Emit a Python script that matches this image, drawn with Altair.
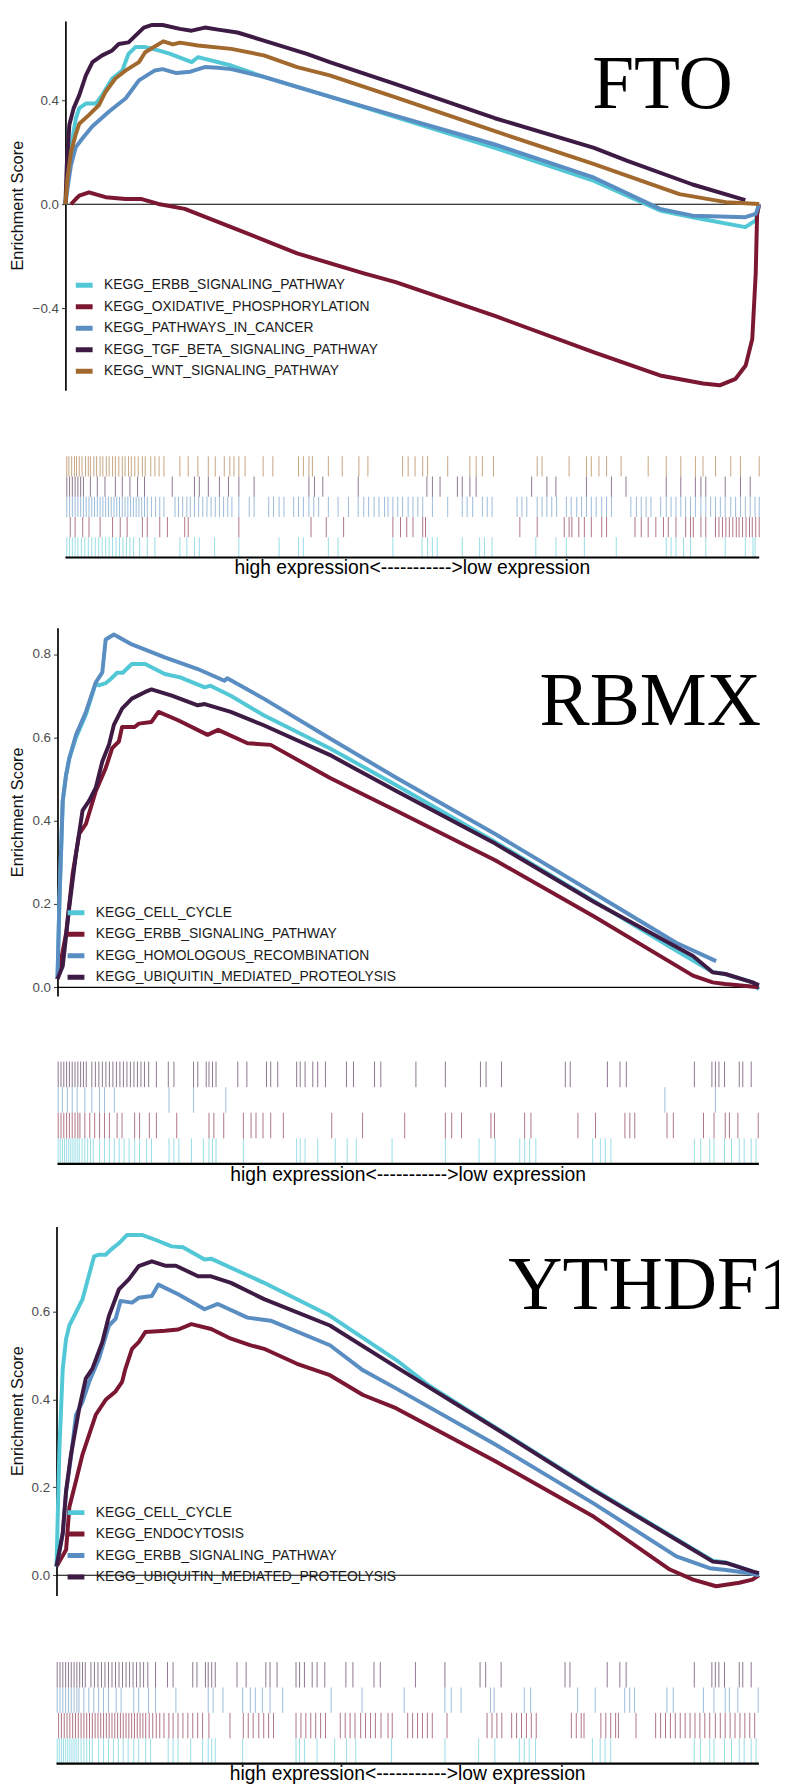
import altair as alt
import pandas as pd

# ---------------- colours ----------------
CYAN = "#52C7D6"
RED = "#7B1731"
BLUE = "#5A8EC2"
PURPLE = "#3E1B44"
BROWN = "#A2692E"

# ---------------- panel 1 : FTO ----------------
FTO_NAMES = ["KEGG_ERBB_SIGNALING_PATHWAY", "KEGG_OXIDATIVE_PHOSPHORYLATION",
             "KEGG_PATHWAYS_IN_CANCER", "KEGG_TGF_BETA_SIGNALING_PATHWAY",
             "KEGG_WNT_SIGNALING_PATHWAY"]
FTO_COLORS = [CYAN, RED, BLUE, PURPLE, BROWN]

FTO_ERBB_X = [0, 0.3, 0.8, 1.5, 2.0, 3.0, 4.4, 5.3, 6.75, 8.2, 9.1, 10.1, 11.5, 13.4, 15.0, 18.2, 19.1, 23.9, 28.6, 38.1, 47.6, 61.9, 76.2, 85.7, 90.4, 98.0, 99.5, 100]
FTO_ERBB_Y = [0, 0.10, 0.22, 0.33, 0.37, 0.388, 0.388, 0.42, 0.484, 0.515, 0.579, 0.605, 0.605, 0.592, 0.58, 0.547, 0.566, 0.534, 0.49, 0.414, 0.335, 0.217, 0.09, -0.024, -0.05, -0.088, -0.062, 0]
FTO_OXPHOS_X = [0.8, 1.5, 2.0, 3.4, 5.8, 8.7, 11.0, 13.4, 17.2, 23.9, 33.4, 42.9, 47.6, 61.9, 76.2, 85.7, 91.9, 94.3, 96.6, 98.05, 99.0, 99.5, 99.7, 100]
FTO_OXPHOS_Y = [0, 0.02, 0.033, 0.046, 0.027, 0.02, 0.02, 0.001, -0.018, -0.088, -0.189, -0.265, -0.30, -0.43, -0.57, -0.659, -0.69, -0.697, -0.672, -0.621, -0.519, -0.265, -0.037, 0]
FTO_CANCER_X = [0, 0.3, 0.8, 1.5, 2.5, 3.9, 6.3, 8.7, 10.6, 12.9, 14.0, 16.0, 18.0, 20.1, 22.0, 23.9, 28.6, 38.1, 47.6, 61.9, 76.2, 85.7, 90.4, 98.0, 99.5, 100]
FTO_CANCER_Y = [0, 0.06, 0.15, 0.22, 0.255, 0.30, 0.357, 0.408, 0.477, 0.515, 0.52, 0.505, 0.51, 0.528, 0.525, 0.52, 0.49, 0.414, 0.34, 0.23, 0.102, -0.018, -0.044, -0.05, -0.037, 0]
FTO_TGF_X = [0, 0.2, 0.57, 1.2, 2.0, 2.95, 3.9, 5.3, 6.75, 7.7, 9.1, 10.1, 11.3, 12.5, 14.0, 16.5, 18.2, 20.1, 22.0, 24.8, 28.6, 34.8, 38.1, 47.6, 61.9, 76.2, 80.9, 90.4, 98.0]
FTO_TGF_Y = [0, 0.15, 0.306, 0.37, 0.42, 0.496, 0.547, 0.573, 0.592, 0.617, 0.623, 0.649, 0.68, 0.69, 0.69, 0.675, 0.668, 0.68, 0.672, 0.661, 0.63, 0.579, 0.547, 0.462, 0.331, 0.217, 0.168, 0.076, 0.016]
FTO_WNT_X = [0, 0.3, 0.8, 1.5, 2.0, 3.4, 4.85, 5.8, 7.2, 8.7, 10.6, 11.5, 14.1, 15.5, 16.5, 19.1, 23.9, 28.6, 33.4, 38.1, 47.6, 61.9, 76.2, 88.5, 95.2, 100]
FTO_WNT_Y = [0, 0.10, 0.2, 0.27, 0.31, 0.344, 0.382, 0.433, 0.484, 0.515, 0.547, 0.585, 0.627, 0.615, 0.622, 0.611, 0.598, 0.573, 0.528, 0.496, 0.411, 0.281, 0.154, 0.039, 0.008, 0.001]

FTO_WNT_HITS = [0.2, 0.5, 0.9, 1.3, 1.6, 2.0, 2.4, 2.9, 3.3, 3.6, 4.1, 4.5, 5.0, 5.4, 5.9, 6.3, 6.8, 7.2, 7.7, 8.2, 8.6, 9.1, 9.5, 10.0, 10.5, 11.1, 11.5, 12.3, 12.9, 13.5, 14.2,
                16.5, 17.7, 19.1, 20.6, 21.6, 22.9, 23.7, 24.3, 25.0, 25.9, 28.5, 29.9, 33.6, 34.3, 35.1, 35.6, 37.9, 39.9, 42.3, 43.6, 48.6, 49.4, 50.4, 51.5, 52.2, 55.1, 58.3, 59.2, 60.1, 61.7,
                68.0, 68.7, 72.6, 75.1, 75.8, 76.9, 78.0, 80.1, 84.0, 86.6, 88.7, 90.8, 91.9, 93.7, 95.9, 97.3, 100]
FTO_TGF_HITS = [0.2, 0.6, 1.0, 1.4, 1.8, 2.2, 2.6, 3.6, 4.6, 5.7, 7.2, 8.2, 9.3, 10.4, 11.4, 15.4, 18.6, 19.3, 20.6, 22.2, 23.5, 25.0, 27.2, 35.1, 35.9, 37.1, 42.2, 52.1, 52.9, 54.0, 56.5, 57.2, 58.3, 59.2,
                67.2, 69.4, 70.7, 75.1, 78.7, 80.8, 86.6, 88.7, 90.8, 91.6, 92.3, 95.1, 97.3, 98.7]
FTO_CANCER_HITS = [0.2, 0.6, 1.0, 1.4, 1.8, 2.2, 2.6, 3.0, 3.4, 3.8, 4.2, 4.6, 5.0, 5.4, 5.8, 6.2, 6.6, 7.0, 7.4, 7.8, 8.2, 8.6, 9.0, 9.4, 9.8, 10.2, 10.6, 11.0, 11.4, 11.8, 12.4, 13.0, 13.6, 14.2,
                   15.8, 16.3, 16.9, 17.5, 18.0, 18.6, 19.2, 19.8, 20.4, 21.0, 21.6, 22.2, 22.8, 23.4, 24.0, 25.0, 26.5, 27.2, 29.3, 30.0, 30.8, 31.5, 32.9, 33.6, 34.3, 35.1, 35.8, 36.5,
                   37.9, 39.3, 40.8, 42.2, 43.0, 43.7, 44.5, 45.2, 46.0, 46.5, 47.2, 47.9, 48.6, 49.4, 50.1, 50.8, 51.5, 52.9, 55.1, 57.2, 57.9, 58.7, 60.1, 60.8, 61.5, 65.1, 65.8, 66.5,
                   68.0, 68.7, 69.4, 70.1, 70.8, 72.2, 72.9, 73.7, 74.4, 75.1, 75.8, 76.5, 77.3, 78.0, 78.7, 81.5, 82.3, 83.0, 83.7, 84.4, 85.8, 86.6, 87.3, 88.0, 88.7, 89.4, 90.1, 90.8,
                   91.6, 92.3, 93.0, 93.7, 94.4, 95.1, 95.9, 96.6, 97.3, 98.0, 98.7, 99.4, 100]
FTO_OXPHOS_HITS = [0.7, 1.4, 2.5, 3.4, 5.0, 6.8, 7.9, 8.9, 11.1, 11.8, 13.6, 14.7, 17.2, 17.7, 25.0, 35.4, 37.6, 40.1, 47.2, 48.3, 49.2, 50.1, 51.5, 51.9, 65.5, 68.0, 71.9, 72.6, 73.0, 74.0, 74.8,
                   75.8, 77.3, 78.0, 82.1, 83.0, 84.0, 85.1, 86.2, 86.9, 88.0, 89.4, 90.1, 90.5, 91.6, 92.3, 93.7, 94.2, 94.7, 95.2, 95.7, 96.2, 96.7, 97.1, 97.6, 98.1, 98.6, 99.0, 99.5, 100]
FTO_ERBB_HITS = [0.2, 0.6, 1.0, 1.4, 1.8, 2.3, 2.8, 3.3, 3.8, 4.3, 4.8, 5.3, 5.8, 6.3, 6.8, 7.3, 7.8, 8.3, 8.8, 9.3, 9.8, 10.7, 11.8, 12.9, 16.5, 17.5, 18.6, 19.3, 21.5, 25.0, 30.8, 33.6, 34.3,
                 37.9, 39.3, 47.2, 51.4, 52.2, 52.9, 53.6, 57.2, 59.7, 60.4, 61.5, 67.8, 70.7, 72.2, 74.8, 79.4, 86.6, 87.3, 88.0, 89.1, 90.1, 92.3, 95.1, 98.0, 99.1, 99.4]

# ---------------- panel 2 : RBMX ----------------
RBMX_NAMES = ["KEGG_CELL_CYCLE", "KEGG_ERBB_SIGNALING_PATHWAY",
              "KEGG_HOMOLOGOUS_RECOMBINATION", "KEGG_UBIQUITIN_MEDIATED_PROTEOLYSIS"]
RBMX_COLORS = [CYAN, RED, BLUE, PURPLE]

RBMX_CC_X = [0, 0.28, 0.75, 1.23, 1.69, 2.64, 4.05, 5.46, 5.9, 6.87, 7.6, 8.5, 9.3, 10.6, 12.5, 15.3, 17.5, 21.0, 21.8, 24.7, 29.4, 38.8, 48.3, 62.4, 76.5, 88.2, 93.4, 95.2, 99.1, 100]
RBMX_CC_Y = [0.02, 0.21, 0.448, 0.51, 0.55, 0.60, 0.655, 0.73, 0.725, 0.73, 0.74, 0.755, 0.755, 0.776, 0.776, 0.752, 0.744, 0.72, 0.724, 0.70, 0.653, 0.574, 0.485, 0.349, 0.207, 0.088, 0.037, 0.032, 0.012, -0.005]
RBMX_ERBB_X = [0, 1.23, 2.16, 3.1, 4.05, 5.46, 6.87, 7.8, 8.75, 9.21, 11.0, 11.6, 13.4, 14.4, 17.2, 21.4, 22.9, 27.1, 30.4, 38.8, 43.6, 48.3, 62.4, 76.5, 90.6, 93.4, 95.2, 100]
RBMX_ERBB_Y = [0.02, 0.13, 0.273, 0.368, 0.392, 0.471, 0.526, 0.574, 0.59, 0.625, 0.625, 0.633, 0.637, 0.661, 0.641, 0.606, 0.618, 0.586, 0.582, 0.503, 0.463, 0.424, 0.305, 0.17, 0.028, 0.012, 0.008, 0.0]
RBMX_HR_X = [0, 0.28, 0.75, 1.23, 1.69, 2.64, 4.05, 5.46, 6.39, 6.87, 8.04, 10.6, 15.3, 20.0, 23.8, 24.2, 29.4, 38.8, 48.3, 62.4, 76.5, 88.2, 93.9]
RBMX_HR_Y = [0.02, 0.21, 0.448, 0.51, 0.55, 0.606, 0.661, 0.732, 0.756, 0.835, 0.847, 0.823, 0.792, 0.764, 0.736, 0.742, 0.693, 0.598, 0.503, 0.368, 0.226, 0.107, 0.063]
RBMX_UBIQ_X = [0, 0.75, 1.69, 2.64, 3.57, 4.52, 5.46, 6.39, 7.34, 8.04, 9.21, 10.6, 12.5, 13.4, 16.3, 20.0, 21.0, 24.7, 29.4, 38.8, 48.3, 62.4, 76.5, 90.6, 93.4, 95.2, 99.1, 100]
RBMX_UBIQ_Y = [0.02, 0.051, 0.194, 0.32, 0.424, 0.448, 0.479, 0.542, 0.582, 0.63, 0.669, 0.693, 0.709, 0.715, 0.70, 0.677, 0.68, 0.661, 0.629, 0.558, 0.471, 0.345, 0.205, 0.075, 0.036, 0.032, 0.012, 0.005]

UBIQ_HITS = [0.1, 0.5, 0.9, 1.3, 1.7, 2.1, 2.5, 2.9, 3.3, 3.7, 4.1, 4.9, 5.4, 5.9, 6.4, 6.9, 7.4, 7.9, 8.4, 8.9, 9.4, 9.9, 10.4, 10.9, 11.4, 11.9, 12.4, 13.0, 14.1, 15.8, 16.6, 19.4, 20.0,
             21.2, 21.6, 22.1, 22.6, 25.7, 27.0, 29.8, 30.4, 31.4, 34.1, 34.6, 35.3, 36.4, 37.1, 38.2, 41.2, 42.2, 45.2, 46.1, 51.1, 55.3, 60.3, 61.1, 63.3, 72.4, 73.1, 78.4, 80.2, 81.1,
             90.8, 93.3, 93.8, 94.3, 95.1, 97.2, 97.7, 98.9]
HR_HITS = [0.1, 0.7, 1.4, 2.1, 2.8, 3.9, 4.9, 6.0, 6.7, 8.1, 15.9, 19.4, 24.0, 86.6, 93.8]
ERBB_HITS = [0.1, 0.5, 0.9, 1.3, 1.7, 2.1, 2.5, 2.9, 3.2, 3.9, 4.6, 5.3, 6.0, 6.7, 7.4, 8.5, 9.2, 11.0, 11.7, 13.1, 14.1, 17.0, 21.6, 22.3, 23.7, 26.5, 27.6, 28.3, 29.3, 30.4, 32.2,
             39.1, 43.5, 49.5, 55.3, 56.2, 57.6, 61.8, 62.3, 66.6, 67.5, 74.2, 76.7, 80.9, 81.6, 82.3, 86.9, 87.8, 92.1, 93.6, 95.2, 95.8, 97.0, 99.9]
CC_HITS = [0.1, 0.4, 0.7, 1.0, 1.3, 1.6, 1.9, 2.2, 2.5, 2.8, 3.1, 3.5, 3.9, 4.3, 4.7, 5.1, 6.0, 6.7, 7.4, 8.1, 8.8, 9.5, 10.2, 11.0, 11.7, 12.7, 13.4, 15.9, 16.6, 17.3, 19.1, 20.8, 21.6,
           22.1, 22.6, 26.5, 34.1, 34.6, 35.3, 37.1, 39.6, 41.3, 42.6, 47.7, 55.3, 60.1, 62.4, 65.9, 66.6, 67.3, 68.2, 76.3, 77.4, 78.1, 78.9, 90.8, 91.7, 93.0, 93.6, 95.1, 96.1,
           97.2, 97.9, 98.9, 99.6]

# ---------------- panel 3 : YTHDF1 ----------------
YTH_NAMES = ["KEGG_CELL_CYCLE", "KEGG_ENDOCYTOSIS",
             "KEGG_ERBB_SIGNALING_PATHWAY", "KEGG_UBIQUITIN_MEDIATED_PROTEOLYSIS"]
YTH_COLORS = [CYAN, RED, BLUE, PURPLE]

YTH_CC_X = [0, 0.42, 0.89, 1.37, 1.83, 2.78, 3.71, 4.65, 5.35, 6.06, 7.0, 7.71, 8.88, 10.05, 12.16, 14.05, 16.39, 18.0, 21.09, 22.0, 29.55, 38.93, 48.33, 53.0, 62.42, 76.51, 90.63, 93.45, 95.32, 99.07, 100]
YTH_CC_Y = [0.02, 0.29, 0.47, 0.538, 0.568, 0.598, 0.628, 0.684, 0.725, 0.729, 0.729, 0.74, 0.755, 0.774, 0.774, 0.763, 0.748, 0.746, 0.718, 0.72, 0.665, 0.59, 0.49, 0.432, 0.337, 0.195, 0.06, 0.033, 0.029, 0.009, 0.0]
YTH_ENDO_X = [0, 1.37, 1.83, 2.78, 3.71, 4.65, 5.59, 7.0, 8.41, 9.34, 9.82, 10.75, 11.7, 12.64, 15.46, 17.33, 19.2, 22.02, 24.84, 27.66, 29.55, 34.24, 38.93, 43.64, 48.33, 62.42, 76.51, 87.32, 90.63, 93.91, 97.2, 99.07, 100]
YTH_ENDO_Y = [0.02, 0.058, 0.155, 0.215, 0.275, 0.32, 0.365, 0.399, 0.418, 0.44, 0.47, 0.515, 0.53, 0.553, 0.556, 0.559, 0.571, 0.56, 0.538, 0.523, 0.515, 0.481, 0.455, 0.41, 0.38, 0.26, 0.133, 0.013, -0.01, -0.025, -0.017, -0.01, 0]
YTH_ERBB_X = [0, 0.89, 1.37, 2.07, 2.78, 3.71, 4.65, 6.06, 7.47, 8.41, 9.12, 10.75, 11.7, 13.57, 14.51, 17.33, 21.09, 22.97, 27.19, 30.48, 38.93, 43.64, 48.33, 62.42, 76.51, 88.25, 92.98, 95.32, 98.5, 100]
YTH_ERBB_Y = [0.02, 0.095, 0.19, 0.27, 0.365, 0.395, 0.44, 0.493, 0.568, 0.583, 0.624, 0.62, 0.631, 0.635, 0.661, 0.639, 0.605, 0.617, 0.586, 0.579, 0.523, 0.466, 0.425, 0.298, 0.163, 0.043, 0.016, 0.012, 0.005, 0.0]
YTH_UBIQ_X = [0, 0.89, 1.37, 2.07, 3.24, 4.18, 5.11, 6.52, 7.47, 8.88, 10.29, 11.7, 13.57, 15.46, 17.0, 20.15, 22.0, 24.84, 29.55, 38.93, 48.33, 62.42, 76.51, 90.63, 93.45, 95.32, 99.07, 100]
YTH_UBIQ_Y = [0.02, 0.095, 0.193, 0.275, 0.38, 0.448, 0.47, 0.53, 0.59, 0.65, 0.673, 0.703, 0.714, 0.704, 0.704, 0.68, 0.68, 0.665, 0.628, 0.568, 0.474, 0.335, 0.193, 0.058, 0.031, 0.028, 0.009, 0.005]

ENDO_HITS = [0.3, 0.7, 1.1, 1.5, 1.9, 2.3, 2.7, 3.1, 3.5, 3.9, 4.3, 4.7, 5.1, 5.5, 5.9, 6.3, 6.7, 7.1, 7.5, 7.9, 8.3, 8.7, 9.1, 9.5, 9.9, 10.3, 10.7, 11.1, 11.5, 11.9, 12.3, 12.7, 13.2,
             13.7, 14.2, 14.7, 15.3, 16.0, 16.6, 17.3, 18.0, 18.7, 19.4, 20.1, 20.8, 21.7, 24.7, 26.6, 27.3, 28.0, 28.8, 29.5, 30.2, 30.9, 34.1, 34.8, 35.5, 36.2, 36.9, 37.6, 38.3,
             40.4, 41.1, 41.8, 42.5, 43.3, 44.0, 44.7, 45.4, 46.2, 47.2, 47.8, 50.0, 50.7, 51.4, 52.1, 52.8, 53.5, 55.6, 61.3, 62.0, 62.7, 63.4, 64.8, 65.5, 66.2, 66.9, 67.6, 68.3,
             73.3, 74.0, 74.7, 75.1, 77.5, 78.2, 78.9, 79.6, 80.0, 82.5, 85.3, 86.0, 86.7, 87.4, 88.1, 88.8, 89.5, 90.2, 90.9, 91.6, 92.3, 93.0, 93.8, 94.5, 95.2, 95.9, 96.6,
             97.3, 98.0, 98.7, 99.4]

AXIS_TITLE = "Enrichment Score"
RUG_TEXT = "high expression<----------->low expression"


# ---------------- helpers ----------------
def lines_frame(names, xs_list, ys_list):
    rows = []
    for name, xs, ys in zip(names, xs_list, ys_list):
        for x, y in zip(xs, ys):
            rows.append({"rank": x, "es": y, "pathway": name})
    return pd.DataFrame(rows)


def rug_frame(names, hits_list):
    n = len(names)
    rows = []
    for i, (name, hits) in enumerate(zip(names, hits_list)):
        row = n - 1 - i
        for h in hits:
            rows.append({"rank": h, "r0": row, "r1": row + 1, "pathway": name})
    return pd.DataFrame(rows)


def xsc(rng):
    return alt.Scale(domain=[0, 100], range=rng, nice=False, zero=False)


def ysc(dom, rng):
    return alt.Scale(domain=dom, range=rng, nice=False, zero=False)


def panel(names, colors, xs_list, ys_list, hits_list, label, label_pos,
          xr, ydom, yr, ticks, axis_off, title_x, title_y,
          leg_x, leg_y, rug_r, rug_text_row):
    layers = []
    # zero line
    zero = pd.DataFrame({"a": [0], "b": [100], "v": [0.0]})
    layers.append(alt.Chart(zero).mark_rule(color="black", strokeWidth=1.1).encode(
        x=alt.X("a:Q", scale=xsc(xr), axis=None), x2="b:Q",
        y=alt.Y("v:Q", scale=ysc(ydom, yr), axis=None)))
    # curves with axis and legend
    axis = alt.Axis(orient="left", offset=axis_off, values=ticks, format=".1f",
                    domainColor="#111111", domainWidth=1.8, tickColor="#333333",
                    tickSize=4, tickWidth=1, labelFont="Liberation Sans",
                    labelFontSize=13.5, labelColor="#4D4D4D", labelPadding=3,
                    grid=False, title=AXIS_TITLE, titleFont="Liberation Sans",
                    titleFontSize=16.5, titleFontWeight="normal", titleColor="#111111",
                    titleAngle=-90, titleBaseline="middle", titleAlign="center",
                    titleX=title_x, titleY=title_y)
    legend = alt.Legend(orient="none", legendX=leg_x, legendY=leg_y, title=None,
                        symbolType="stroke", symbolSize=289, symbolStrokeWidth=5,
                        labelFont="Liberation Sans", labelFontSize=14,
                        labelColor="#1A1A1A", labelOffset=9, clipHeight=18,
                        rowPadding=3.7, padding=0, labelLimit=0)
    layers.append(alt.Chart(lines_frame(names, xs_list, ys_list)).mark_line(
        strokeWidth=4, strokeJoin="round").encode(
        x=alt.X("rank:Q", scale=xsc(xr), axis=None),
        y=alt.Y("es:Q", scale=ysc(ydom, yr), axis=axis),
        color=alt.Color("pathway:N", scale=alt.Scale(domain=names, range=colors),
                        legend=legend)))
    # gene label
    lab = pd.DataFrame({"a": [label_pos[0]], "v": [label_pos[1]], "t": [label]})
    layers.append(alt.Chart(lab).mark_text(font="Liberation Serif", fontSize=76,
                                           align="left", baseline="alphabetic",
                                           color="black").encode(
        x=alt.X("a:Q", scale=xsc(xr), axis=None),
        y=alt.Y("v:Q", scale=ysc(ydom, yr), axis=None), text="t:N"))
    # rug
    n = len(names)
    rug_y = alt.Scale(domain=[0, n], range=rug_r, nice=False, zero=False)
    layers.append(alt.Chart(rug_frame(names, hits_list)).mark_rule(
        strokeWidth=1, opacity=0.6).encode(
        x=alt.X("rank:Q", scale=xsc(xr), axis=None),
        y=alt.Y("r0:Q", scale=rug_y, axis=None), y2="r1:Q",
        color=alt.Color("pathway:N", scale=alt.Scale(domain=names, range=colors),
                        legend=None)))
    base = pd.DataFrame({"a": [0], "b": [100], "r": [n]})
    layers.append(alt.Chart(base).mark_rule(color="black", strokeWidth=2.2).encode(
        x=alt.X("a:Q", scale=xsc(xr), axis=None), x2="b:Q",
        y=alt.Y("r:Q", scale=alt.Scale(domain=[0, n], range=rug_r, nice=False, zero=False),
                axis=None)))
    txt = pd.DataFrame({"a": [50], "r": [rug_text_row], "t": [RUG_TEXT]})
    layers.append(alt.Chart(txt).mark_text(font="Liberation Sans", fontSize=19.5,
                                           align="center", baseline="middle",
                                           color="black").encode(
        x=alt.X("a:Q", scale=xsc(xr), axis=None),
        y=alt.Y("r:Q", scale=alt.Scale(domain=[0, n], range=rug_r, nice=False, zero=False),
                axis=None), text="t:N"))
    return layers


layers = []
layers += panel(FTO_NAMES, FTO_COLORS,
                [FTO_ERBB_X, FTO_OXPHOS_X, FTO_CANCER_X, FTO_TGF_X, FTO_WNT_X],
                [FTO_ERBB_Y, FTO_OXPHOS_Y, FTO_CANCER_Y, FTO_TGF_Y, FTO_WNT_Y],
                [FTO_ERBB_HITS, FTO_OXPHOS_HITS, FTO_CANCER_HITS, FTO_TGF_HITS, FTO_WNT_HITS],
                "FTO", (75.93, 0.3695),
                xr=[58, 759], ydom=[-0.716, 0.705], yr=[377, 4], ticks=[-0.4, 0.0, 0.4],
                axis_off=-58, title_x=-48, title_y=190,
                leg_x=66, leg_y=262, rug_r=[443.7, 546], rug_text_row=5.54)
layers += panel(RBMX_NAMES, RBMX_COLORS,
                [RBMX_CC_X, RBMX_ERBB_X, RBMX_HR_X, RBMX_UBIQ_X],
                [RBMX_CC_Y, RBMX_ERBB_Y, RBMX_HR_Y, RBMX_UBIQ_Y],
                [CC_HITS, ERBB_HITS, HR_HITS, UBIQ_HITS],
                "RBMX", (68.72, 0.6295),
                xr=[50, 758.7], ydom=[-0.0207, 0.863], yr=[989, 617],
                ticks=[0.0, 0.2, 0.4, 0.6, 0.8],
                axis_off=-50, title_x=-40, title_y=803,
                leg_x=57.7, leg_y=896, rug_r=[1055.3, 1158.7], rug_text_row=4.44)
layers += panel(YTH_NAMES, YTH_COLORS,
                [YTH_CC_X, YTH_ENDO_X, YTH_ERBB_X, YTH_UBIQ_X],
                [YTH_CC_Y, YTH_ENDO_Y, YTH_ERBB_Y, YTH_UBIQ_Y],
                [CC_HITS, ENDO_HITS, ERBB_HITS, UBIQ_HITS],
                "YTHDF1", (64.3, 0.6053),
                xr=[49, 758.7], ydom=[-0.0459, 0.793], yr=[1594.7, 1222],
                ticks=[0.0, 0.2, 0.4, 0.6],
                axis_off=-49, title_x=-39, title_y=1408,
                leg_x=57.7, leg_y=1502, rug_r=[1662, 1764.7], rug_text_row=4.40)

chart = alt.layer(*layers).resolve_scale(
    x="independent", y="independent", color="independent"
).properties(
    width=779, height=1776, padding=0, autosize=alt.AutoSizeParams(type="none")
).configure_view(strokeWidth=0)

chart.save("out.html", embed_options={"renderer": "svg", "actions": False})
